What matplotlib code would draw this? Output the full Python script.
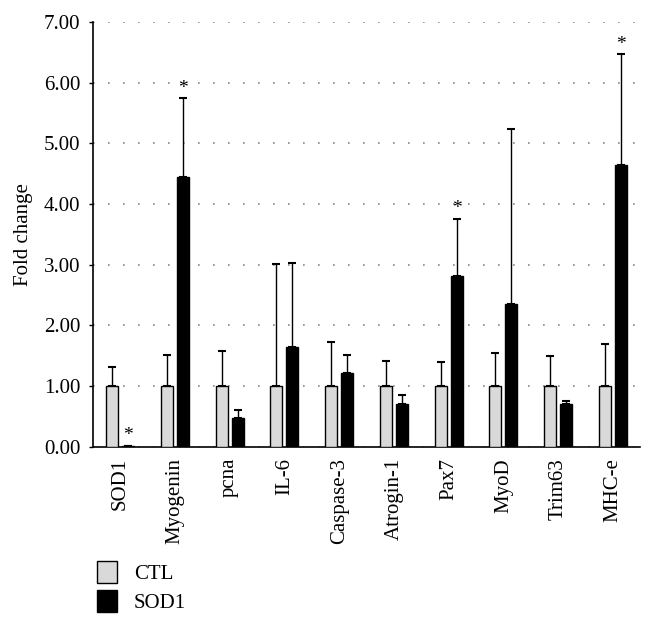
import matplotlib.pyplot as plt
import numpy as np

plt.rcParams['font.family'] = ['Liberation Serif', 'DejaVu Serif']

# Genes and fold change values
genes = ["SOD1", "Myogenin", "pcna", "IL-6", "Caspase-3",
         "Atrogin-1", "Pax7", "MyoD", "Trim63", "MHC-e"]
ctl_mean = [1.00, 1.00, 1.00, 1.00, 1.00, 1.00, 1.00, 1.00, 1.00, 1.00]
ctl_err = [0.31, 0.52, 0.58, 2.02, 0.73, 0.42, 0.40, 0.54, 0.50, 0.70]
sod_mean = [0.02, 4.45, 0.48, 1.65, 1.22, 0.70, 2.81, 2.36, 0.70, 4.65]
sod_err = [0.0, 1.29, 0.12, 1.38, 0.30, 0.16, 0.95, 2.88, 0.06, 1.82]
significant = [True, True, False, False, False, False, True, False, False, True]

fig = plt.figure(figsize=(6.54, 6.25), dpi=100)
ax = fig.add_axes([0.142, 0.285, 0.837, 0.68])

x = np.arange(len(genes))
w = 0.22
off = 0.146

ax.bar(x - off, ctl_mean, w, color='#d9d9d9', edgecolor='black', linewidth=1, label='CTL', zorder=3)
ax.bar(x + off, sod_mean, w, color='black', edgecolor='black', linewidth=1, label='SOD1', zorder=3)
ax.errorbar(x - off, ctl_mean, yerr=[np.zeros(len(x)), ctl_err], fmt='none',
            ecolor='black', elinewidth=1, capsize=3, capthick=1.5, zorder=2)
ax.errorbar(x + off, sod_mean, yerr=[np.zeros(len(x)), sod_err], fmt='none',
            ecolor='black', elinewidth=1, capsize=3, capthick=1.5, zorder=2)

for i, s in enumerate(significant):
    if s:
        ax.text(x[i] + off, sod_mean[i] + sod_err[i] + 0.02, '*', ha='center', va='bottom', fontsize=14)

ax.set_xlim(-0.5, len(genes) - 0.5)
ax.set_ylim(0, 7)
ax.set_yticks(np.arange(0, 8, 1))
ax.set_yticklabels(["%.2f" % v for v in np.arange(0, 8, 1)], fontsize=15)
ax.set_xticks(x)
ax.set_xticklabels(genes, rotation=90, fontsize=15)
ax.tick_params(axis='x', length=0, pad=8)
ax.tick_params(axis='y', length=3, width=1, pad=6)
ax.set_ylabel("Fold change", fontsize=15, labelpad=8)

ax.yaxis.grid(True, linestyle=(0, (1, 8)), color='#888888', linewidth=1.2)
ax.set_axisbelow(True)
for sp in ['top', 'right']:
    ax.spines[sp].set_visible(False)
ax.spines['left'].set_linewidth(1.2)
ax.spines['bottom'].set_linewidth(1.2)

fig.legend(loc='upper left', bbox_to_anchor=(0.135, 0.115), frameon=False, fontsize=15,
           handlelength=1.0, handleheight=1.2, handletextpad=0.8, labelspacing=0.3,
           borderaxespad=0)

plt.savefig("out.png", dpi=100)
